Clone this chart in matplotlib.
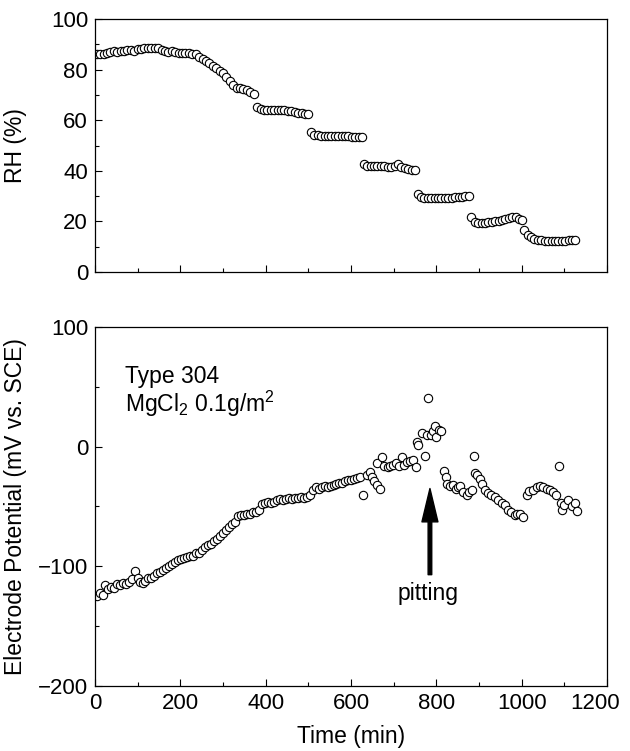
import numpy as np
import matplotlib.pyplot as plt
import matplotlib.transforms as mtransforms
from matplotlib.ticker import MultipleLocator

plt.rcParams['font.family'] = 'Liberation Sans'
plt.rcParams['mathtext.default'] = 'regular'

# relative humidity log (time in min, RH in %)
rh_time = [4, 12, 20, 28, 36, 44, 52, 60, 68, 76, 84, 92, 100, 108, 116, 124,
           132, 140, 148, 156, 164, 172, 180, 188, 196, 204, 212, 220, 228, 236,
           244, 252, 260, 268, 276, 284, 292, 300, 308, 316, 324, 332, 340, 348,
           356, 364, 372,
           380, 388, 396, 404, 412, 420, 428, 436, 444, 452, 460, 468, 476, 484,
           492, 500,
           506, 514, 522, 530, 538, 546, 554, 562, 570, 578, 586, 594, 602, 610,
           618, 626,
           630, 638, 646, 654, 662, 670, 678, 686, 694, 702, 710, 718, 726, 734,
           742, 750,
           756, 764, 772, 780, 788, 796, 804, 812, 820, 828, 836, 844, 852, 860,
           868, 876,
           882, 890, 898, 906, 914, 922, 930, 938, 946, 954, 962, 970, 978, 986,
           994, 1000,
           1006, 1014, 1022, 1030, 1038, 1046, 1054, 1062, 1070, 1078, 1086, 1094,
           1102, 1110, 1118, 1124]
rh_value = [86.0, 86.2, 86.0, 86.5, 86.8, 87.2, 87.0, 87.5, 87.3, 87.6, 87.8, 87.5,
            88.0, 88.3, 88.6, 88.5, 88.7, 88.4, 88.6, 87.9, 87.5, 87.0, 87.2, 86.8,
            86.6, 86.5, 86.4, 86.5, 86.3, 86.0, 85.0, 84.2, 83.3, 82.5, 81.6, 80.5,
            79.6, 78.6, 77.0, 75.4, 74.0, 72.9, 72.6, 72.3, 72.0, 71.2, 70.2,
            65.2, 64.3, 64.0, 63.9, 64.0, 63.9, 64.0, 63.9, 64.1, 63.8, 63.6, 63.3,
            63.0, 62.9, 62.6, 62.3,
            55.3, 54.3, 54.0, 53.9, 53.9, 53.8, 53.9, 53.8, 53.7, 53.9, 53.6, 53.7,
            53.5, 53.5, 53.4, 53.4,
            42.8, 42.0, 41.8, 41.9, 42.0, 41.8, 42.0, 41.7, 41.5, 42.0, 42.8, 41.5,
            41.0, 40.8, 40.5, 40.2,
            30.8, 29.6, 29.3, 29.2, 29.3, 29.2, 29.3, 29.2, 29.3, 29.4, 29.3, 29.5,
            29.6, 29.8, 30.0, 29.9,
            21.8, 19.8, 19.5, 19.3, 19.4, 19.6, 19.8, 20.0, 20.3, 20.6, 21.0, 21.5,
            21.9, 21.6, 20.8, 20.4,
            16.8, 14.8, 13.8, 13.2, 12.8, 12.5, 12.3, 12.2, 12.2, 12.2, 12.3, 12.3,
            12.4, 12.6, 12.8, 12.7]

# electrode potential (mV vs. SCE)
ep_time = [5, 12, 18, 24, 30, 37, 44, 51, 58, 65, 72, 79, 86, 94, 100, 106, 112,
           118, 125, 132, 139, 146, 153, 160, 167, 174, 181, 188, 195, 202, 209,
           216, 223, 230, 237, 244, 251, 258, 265, 272, 279, 286, 293, 300, 307,
           314, 321, 328, 335, 342, 349, 356, 363, 370, 377, 384, 391, 398, 405,
           412, 419, 426, 433, 440, 447, 454, 461, 468, 475, 482, 489, 496, 503,
           510, 517, 524, 531, 538, 545, 552, 559, 566, 573, 580, 587, 594, 601,
           608, 615, 622, 629, 637, 645, 650, 655, 660, 668, 662, 672, 678, 686,
           692, 698, 705, 712, 719, 725, 732, 739, 745, 752, 754, 757, 766, 773,
           778, 781, 787, 793, 797, 800, 806, 812, 818, 822, 825, 832, 838, 845,
           851, 855, 863, 871, 877, 883, 888, 890, 895, 902, 906, 914, 921, 929,
           937, 945, 953, 961, 968, 976, 984, 990, 996, 1004, 1012, 1018, 1027,
           1035, 1043, 1051, 1059, 1066, 1074, 1080, 1087, 1093, 1094, 1100, 1109,
           1117, 1125, 1129]
ep_value = [-125, -122, -124, -116, -119, -117, -118, -115, -116, -114, -115, -113,
            -111, -104, -110, -113, -114, -112, -110, -110, -108, -106, -105, -103,
            -101, -100, -98, -96, -95, -94, -93, -92, -91, -91, -89, -89, -86, -84,
            -82, -81, -79, -77, -75, -72, -70, -67, -65, -63, -58, -57, -57, -56,
            -56, -55, -55, -53, -48, -47, -46, -47, -46, -45, -44, -45, -44, -43,
            -44, -43, -43, -42, -43, -42, -40, -36, -34, -35, -34, -33, -34, -33,
            -32, -31, -30, -30, -29, -28, -28, -27, -26, -25, -40, -24, -21, -25,
            -29, -32, -35, -14, -9, -16, -17, -16, -15, -14, -16, -9, -15, -13,
            -12, -11, -17, 4, 1, 11, -8, 10, 41, 10, 13, 17, 8, 14, 13, -20, -25,
            -31, -33, -32, -35, -34, -33, -38, -40, -38, -36, -7.5, -22, -24, -27,
            -31, -36, -39, -40, -42, -45, -47, -49, -53, -55, -57, -56, -56, -59,
            -40, -37, -36, -34, -33, -34, -35, -36, -38, -40, -16, -47, -53, -49,
            -45, -50, -47, -54]

fig = plt.figure(figsize=(6.3, 7.51), dpi=100)
ax1 = fig.add_axes([0.1508, 0.6378, 0.8127, 0.3369])
ax2 = fig.add_axes([0.1508, 0.0866, 0.8127, 0.4780])

mk = dict(linestyle='none', marker='o', markersize=6, markerfacecolor='white',
          markeredgecolor='black', markeredgewidth=0.8)
ax1.plot(rh_time, rh_value, **mk)
ax2.plot(ep_time, ep_value, **mk)

for ax in (ax1, ax2):
    ax.set_xlim(0, 1200)
    ax.xaxis.set_major_locator(MultipleLocator(200))
    ax.xaxis.set_minor_locator(MultipleLocator(100))
    ax.tick_params(which='both', direction='in', top=False, right=False,
                   labelsize=16, pad=5, width=0.8)
    ax.tick_params(which='major', length=5)
    ax.tick_params(which='minor', length=3)
    for s in ax.spines.values():
        s.set_linewidth(0.9)

ax1.set_ylim(0, 100)
ax1.yaxis.set_major_locator(MultipleLocator(20))
ax1.yaxis.set_minor_locator(MultipleLocator(10))
ax1.tick_params(axis='x', labelbottom=False)
ax1.set_ylabel('RH (%)', fontsize=16.5)
ax1.yaxis.set_label_coords(-0.132, 0.5)

ax2.set_ylim(-200, 100)
ax2.yaxis.set_major_locator(MultipleLocator(100))
ax2.yaxis.set_minor_locator(MultipleLocator(50))
ax2.set_ylabel('Electrode Potential (mV vs. SCE)', fontsize=16.5)
ax2.yaxis.set_label_coords(-0.132, 0.5)
ax2.set_xlabel('Time (min)', fontsize=16.5, labelpad=8)

ax2.text(70, 53, 'Type 304', fontsize=16.5, va='baseline')
ax2.text(70, 29, 'MgCl$_2$ 0.1g/m$^2$', fontsize=16.5, va='baseline')

ax2.annotate('', xy=(785, -35), xytext=(785, -107),
             arrowprops=dict(facecolor='black', edgecolor='black', width=2.6,
                             headwidth=11.5, headlength=24, shrink=0))
ax2.text(780, -113, 'pitting', fontsize=16.5, ha='center', va='top')

# pull the last time label (1200) in a bit so it stays inside the figure
fig.canvas.draw()
for tick in ax2.xaxis.get_major_ticks():
    if abs(tick.get_loc() - 1200) < 1e-6:
        lab = tick.label1
        lab.set_transform(lab.get_transform() +
                          mtransforms.ScaledTranslation(-12 / 100, 0, fig.dpi_scale_trans))

fig.savefig('out.png', dpi=100)
